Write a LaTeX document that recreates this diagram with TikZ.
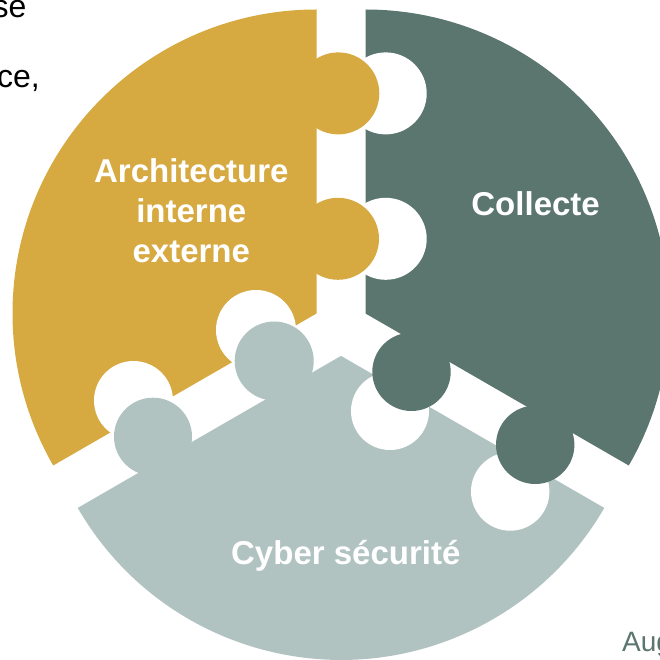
\documentclass[tikz,border=0pt]{standalone}
\usepackage{fontspec}
\setmainfont{Liberation Sans}
\usetikzlibrary{calc}
\definecolor{gold}{HTML}{D6A941}
\definecolor{slate}{HTML}{5B756F}
\definecolor{mist}{HTML}{B0C3C1}

\begin{document}
\begin{tikzpicture}[x=1pt,y=1pt,
         hole/.style = {fill=white},
         knob/.style = {fill=#1},
         piecelabel/.style = {text=white, inner sep=0pt, align=center,
            font=\bfseries\fontsize{33}{40}\selectfont},
         cuttext/.style = {inner sep=0pt, font=\fontsize{32}{38}\selectfont}
]
   \useasboundingbox (0,0) rectangle (660,659);

   % centres of the three pieces (pie pulled apart)
   \coordinate (archi)   at (316.5,345.5);
   \coordinate (collect) at (365.5,345.5);
   \coordinate (cyber)   at (341,303.1);

   \fill[gold]  (archi) -- ++(90:304pt) arc[start angle=90, end angle=210, radius=304pt] -- cycle;
   \fill[slate] (collect) -- ++(-30:304pt) arc[start angle=-30, end angle=90, radius=304pt] -- cycle;
   \fill[mist]  (cyber) -- ++(210:304pt) arc[start angle=210, end angle=330, radius=304pt] -- cycle;

   % holes
   \fill[hole] (385.7,565.6) circle (41pt);
   \fill[hole] (385.7,420.2) circle (41pt);
   \fill[hole] (256,329) circle (40pt);
   \fill[hole] (133.5,258.5) circle (39.5pt);
   \fill[hole] (390,248) circle (39pt);
   \fill[hole] (510.2,167.5) circle (39.2pt);

   % knobs
   \fill[knob=gold]  (338.3,565.6) circle (41pt);
   \fill[knob=gold]  (338,420.2) circle (41pt);
   \fill[knob=mist]  (274.2,298) circle (39.5pt);
   \fill[knob=mist]  (153,222.3) circle (39pt);
   \fill[knob=slate] (411.5,287.2) circle (39.2pt);
   \fill[knob=slate] (535.2,214.2) circle (39.2pt);

   \node[piecelabel, anchor=north] (archilabel) at (191.3,501) {Architecture\\interne\\externe};
   \node[piecelabel, anchor=base] (collectlabel) at (535.6,443.5) {Collecte};
   \node[piecelabel, anchor=base] (cyberlabel) at (345.8,94.5) {Cyber sécurité};

   % bits of slide text cut by the frame
   \node[cuttext, anchor=base east] (cutse) at (26.5,641.3) {se};
   \node[cuttext, anchor=base east] (cutce) at (40,571.7) {ce,};
   \node[cuttext, anchor=base west, text=slate, font=\fontsize{28}{34}\selectfont] (cutaug) at (622,7.3) {Aug};
\end{tikzpicture}
\end{document}
